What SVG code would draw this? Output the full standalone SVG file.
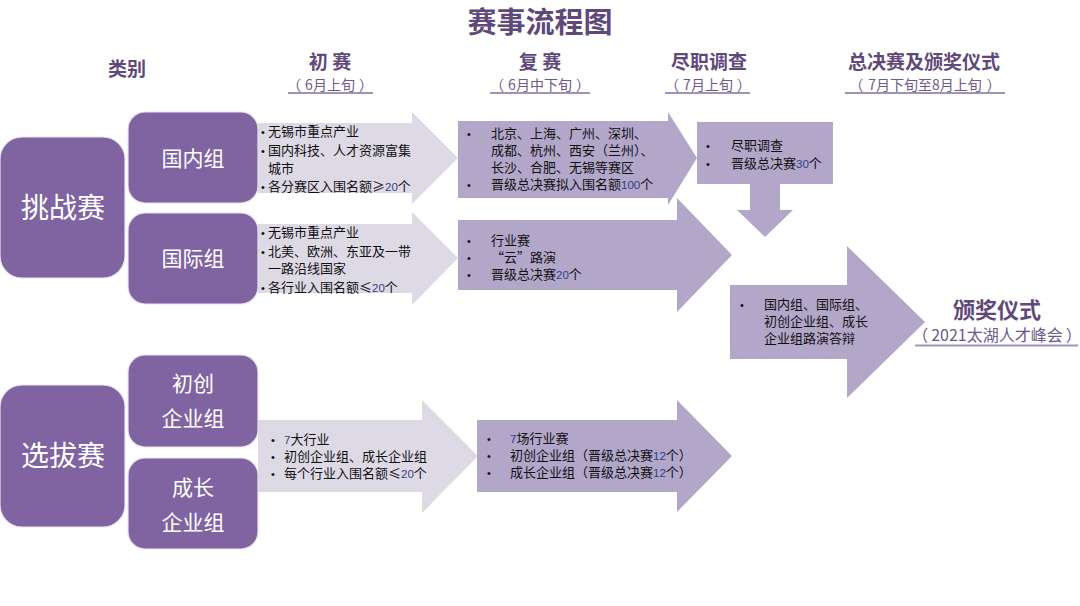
<svg xmlns="http://www.w3.org/2000/svg" width="1080" height="606" viewBox="0 0 1080 606">
<style>
  text { font-family: "Noto Sans CJK SC", "Noto Sans", sans-serif; }
  .title { font-size: 29px; font-weight: 700; fill: #5F497A; text-anchor: middle; }
  .hdr { font-size: 19px; font-weight: 700; fill: #5F497A; text-anchor: middle; }
  .sub { font-size: 14px; fill: #6B5A8A; text-anchor: middle; }
  .uline { stroke: #A093BB; stroke-width: 2; }
  .box { fill: #8064A2; stroke: #E9E4F0; stroke-width: 1.2; }
  .big { font-size: 28px; fill: #FFFFFF; text-anchor: middle; }
  .mid { font-size: 21px; fill: #FFFFFF; text-anchor: middle; }
  .light { fill: #DDD9E5; }
  .dark { fill: #B2A6C9; }
  .t { font-size: 13px; fill: #111111; }
  .b { font-family: "Liberation Sans", sans-serif; font-size: 11px; fill: #111111; }
  .num { font-family: "Liberation Sans", sans-serif; font-size: 11.5px; fill: #2F3F86; }
</style>

<g id="title"><text class="title" x="540" y="33">赛事流程图</text></g>

<g id="headers">
  <text class="hdr" x="127" y="76">类别</text>
  <text class="hdr" x="330" y="69">初 赛</text>
  <text class="sub" x="330" y="90">（<tspan dx="4">6月上旬</tspan><tspan dx="4">）</tspan></text>
  <line class="uline" x1="288" y1="93" x2="373" y2="93"/>
  <text class="hdr" x="540" y="69">复 赛</text>
  <text class="sub" x="540" y="90">（<tspan dx="4">6月中下旬</tspan><tspan dx="4">）</tspan></text>
  <line class="uline" x1="490" y1="93" x2="590" y2="93"/>
  <text class="hdr" x="709" y="69">尽职调查</text>
  <text class="sub" x="708" y="90">（<tspan dx="4">7月上旬</tspan><tspan dx="4">）</tspan></text>
  <line class="uline" x1="665" y1="93" x2="750" y2="93"/>
  <text class="hdr" x="924" y="69">总决赛及颁奖仪式</text>
  <text class="sub" x="925" y="90">（<tspan dx="5">7月下旬至8月上旬</tspan><tspan dx="5">）</tspan></text>
  <line class="uline" x1="845" y1="93" x2="1005" y2="93"/>
</g>

<g id="tiaozhansai">
  <rect class="box" x="0" y="137" width="125" height="141" rx="22"/>
  <text class="big" x="63" y="218">挑战赛</text>
</g>
<g id="guoneizu">
  <rect class="box" x="128" y="112" width="130" height="91" rx="17"/>
  <text class="mid" x="193" y="166">国内组</text>
</g>
<g id="guojizu">
  <rect class="box" x="128" y="213" width="130" height="91" rx="17"/>
  <text class="mid" x="193" y="266">国际组</text>
</g>
<g id="xuanbasai">
  <rect class="box" x="0" y="385" width="125" height="142" rx="22"/>
  <text class="big" x="63" y="466">选拔赛</text>
</g>
<g id="chuchuang">
  <rect class="box" x="128" y="355" width="130" height="92" rx="17"/>
  <text class="mid" x="193" y="391">初创</text>
  <text class="mid" x="193" y="426">企业组</text>
</g>
<g id="chengzhang">
  <rect class="box" x="128" y="458" width="130" height="91" rx="17"/>
  <text class="mid" x="193" y="495">成长</text>
  <text class="mid" x="193" y="530">企业组</text>
</g>

<g id="chusai-guonei">
  <polygon class="light" points="258,123 412,123 412,112 458,158 412,204 412,193 258,193"/>
  <text class="b" x="261" y="136">•</text><text class="t" x="268" y="136">无锡市重点产业</text>
  <text class="b" x="261" y="155">•</text><text class="t" x="268" y="155">国内科技、人才资源富集</text>
  <text class="t" x="268" y="173">城市</text>
  <text class="b" x="261" y="191">•</text><text class="t" x="268" y="191">各分赛区入围名额≥<tspan class="num">20</tspan>个</text>
</g>
<g id="chusai-guoji">
  <polygon class="light" points="258,224 412,224 412,212 458,258 412,305 412,293 258,293"/>
  <text class="b" x="261" y="237">•</text><text class="t" x="268" y="237">无锡市重点产业</text>
  <text class="b" x="261" y="256">•</text><text class="t" x="268" y="256">北美、欧洲、东亚及一带</text>
  <text class="t" x="268" y="273">一路沿线国家</text>
  <text class="b" x="261" y="292">•</text><text class="t" x="268" y="292">各行业入围名额≤<tspan class="num">20</tspan>个</text>
</g>
<g id="chusai-xuanba">
  <polygon class="light" points="258,420 422,420 422,400 478,456 422,513 422,492 258,492"/>
  <text class="b" x="271" y="444">•</text><text class="t" x="284" y="444"><tspan class="num">7</tspan>大行业</text>
  <text class="b" x="271" y="461">•</text><text class="t" x="284" y="461">初创企业组、成长企业组</text>
  <text class="b" x="271" y="478">•</text><text class="t" x="284" y="478">每个行业入围名额≤<tspan class="num">20</tspan>个</text>
</g>

<g id="fusai-guonei">
  <polygon class="dark" points="458,121 668,121 668,112 697,158 668,205 668,198 458,198"/>
  <text class="b" x="467" y="138">•</text><text class="t" x="491" y="138">北京、上海、广州、深圳、</text>
  <text class="t" x="491" y="155">成都、杭州、西安（兰州）、</text>
  <text class="t" x="491" y="172">长沙、合肥、无锡等赛区</text>
  <text class="b" x="467" y="189">•</text><text class="t" x="491" y="189">晋级总决赛拟入围名额<tspan class="num">100</tspan>个</text>
</g>
<g id="fusai-guoji">
  <polygon class="dark" points="458,220 677,220 677,198 732,255 677,312 677,290 458,290"/>
  <text class="b" x="467" y="245">•</text><text class="t" x="491" y="245">行业赛</text>
  <text class="b" x="467" y="262">•</text><text class="t" x="491" y="262">“云”路演</text>
  <text class="b" x="467" y="279">•</text><text class="t" x="491" y="279">晋级总决赛<tspan class="num">20</tspan>个</text>
</g>
<g id="fusai-xuanba">
  <polygon class="dark" points="477,420 677,420 677,400 732,456 677,512 677,492 477,492"/>
  <text class="b" x="487" y="443">•</text><text class="t" x="510" y="443"><tspan class="num">7</tspan>场行业赛</text>
  <text class="b" x="487" y="460">•</text><text class="t" x="510" y="460">初创企业组（晋级总决赛<tspan class="num">12</tspan>个）</text>
  <text class="b" x="487" y="477">•</text><text class="t" x="510" y="477">成长企业组（晋级总决赛<tspan class="num">12</tspan>个）</text>
</g>

<g id="jinzhidiaocha">
  <rect class="dark" x="697" y="122" width="136" height="62"/>
  <text class="b" x="706" y="150">•</text><text class="t" x="731" y="150">尽职调查</text>
  <text class="b" x="706" y="168">•</text><text class="t" x="731" y="168">晋级总决赛<tspan class="num">30</tspan>个</text>
</g>

<g id="zongjuesai">
  <polygon class="dark" points="730,285 847,285 847,246 925,322 847,398 847,359 730,359"/>
  <text class="b" x="740" y="309">•</text><text class="t" x="764" y="309">国内组、国际组、</text>
  <text class="t" x="764" y="326">初创企业组、成长</text>
  <text class="t" x="764" y="343">企业组路演答辩</text>
</g>

<g id="banjiang">
  <text x="997" y="318" style="font-size:22px;font-weight:700;fill:#5F497A;text-anchor:middle">颁奖仪式</text>
  <text class="sub" x="997" y="341" style="font-size:16px">（<tspan dx="3">2021太湖人才峰会</tspan><tspan dx="3">）</tspan></text>
  <line class="uline" x1="915" y1="345.5" x2="1078" y2="345.5"/>
</g>

<g id="connectors">
  <polygon class="dark" points="750,184 780,184 780,210 793,210 765,237 737,210 750,210"/>
</g>
</svg>
